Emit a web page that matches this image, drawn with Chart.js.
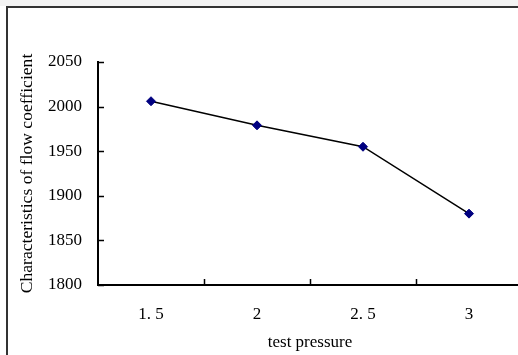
<!DOCTYPE html>
<html lang="en">
<head>
    <meta charset="UTF-8">
    <title>Flow coefficient vs test pressure</title>
    <script src="https://cdn.jsdelivr.net/npm/chart.js"></script>
    <style>
        html, body { margin: 0; padding: 0; background: #fff; overflow: hidden; }
        #strip { position: absolute; left: 0; top: 0; width: 518px; height: 6px; background: #f3f3f3; }
        #frame { position: absolute; left: 6px; top: 6px; width: 600px; height: 400px;
                 border-top: 2px solid #333; border-left: 2px solid #333; }
        #chart { position: absolute; left: 0; top: 0; }
    </style>
</head>
<body>
<div id="strip"></div>
<div id="frame"></div>
<canvas id="chart" width="540" height="355"></canvas>

<script>
    // chart data
    const pressures = ['1. 5', '2', '2. 5', '3'];
    const flowCoefficient = [2006, 1979, 1955, 1880];
    const yTicks = [1800, 1850, 1900, 1950, 2000, 2050];

    const serif = "'Liberation Serif', 'DejaVu Serif', serif";

    // short tick marks pointing into the plot, like the original
    const innerTicks = {
        id: 'innerTicks',
        afterDatasetsDraw(chart) {
            const ctx = chart.ctx;
            const x = chart.scales.x, y = chart.scales.y;
            ctx.save();
            ctx.strokeStyle = '#000';
            ctx.lineWidth = 1.5;
            ctx.beginPath();
            yTicks.forEach(v => {
                const py = Math.round(y.getPixelForValue(v)) + 0.5;
                ctx.moveTo(x.left, py);
                ctx.lineTo(x.left + 6, py);
            });
            for (let i = 1; i < pressures.length; i++) {
                const px = Math.round((x.getPixelForTick(i - 1) + x.getPixelForTick(i)) / 2) + 0.5;
                ctx.moveTo(px, y.bottom);
                ctx.lineTo(px, y.bottom - 6);
            }
            ctx.stroke();
            ctx.restore();
        }
    };

    const ctx = document.getElementById('chart').getContext('2d');
    const chart = new Chart(ctx, {
        type: 'line',
        data: {
            labels: pressures,
            datasets: [{
                data: flowCoefficient,
                borderColor: '#000',
                borderWidth: 1.5,
                pointStyle: 'rectRot',
                pointRadius: 4.5,
                pointBackgroundColor: '#000080',
                pointBorderColor: '#000080',
                pointBorderWidth: 1,
                tension: 0
            }]
        },
        options: {
            responsive: false,
            devicePixelRatio: 1,
            animation: false,
            layout: { padding: { left: 0, top: 62, right: 18, bottom: 0 } },
            plugins: { legend: { display: false }, tooltip: { enabled: false } },
            scales: {
                x: {
                    type: 'category',
                    offset: true,
                    grid: { display: false, drawTicks: false },
                    border: { display: true, color: '#000', width: 2 },
                    ticks: { color: '#000', padding: 19, font: { family: serif, size: 17 } },
                    title: { display: true, text: 'test pressure', color: '#000',
                             padding: { top: 0, bottom: 2 }, font: { family: serif, size: 17 } },
                    afterFit(scale) { scale.height = 70; }
                },
                y: {
                    min: 1800,
                    max: 2050,
                    grid: { display: false, drawTicks: false },
                    border: { display: true, color: '#000', width: 2 },
                    ticks: {
                        stepSize: 50,
                        color: '#000',
                        padding: 16,
                        font: { family: serif, size: 17 },
                        callback: v => String(v)
                    },
                    title: { display: true, text: 'Characteristics of flow coefficient', color: '#000',
                             padding: { top: 17, bottom: 0 }, font: { family: serif, size: 17.6 } },
                    afterFit(scale) { scale.width = 98; }
                }
            }
        },
        plugins: [innerTicks]
    });
</script>
</body>
</html>
